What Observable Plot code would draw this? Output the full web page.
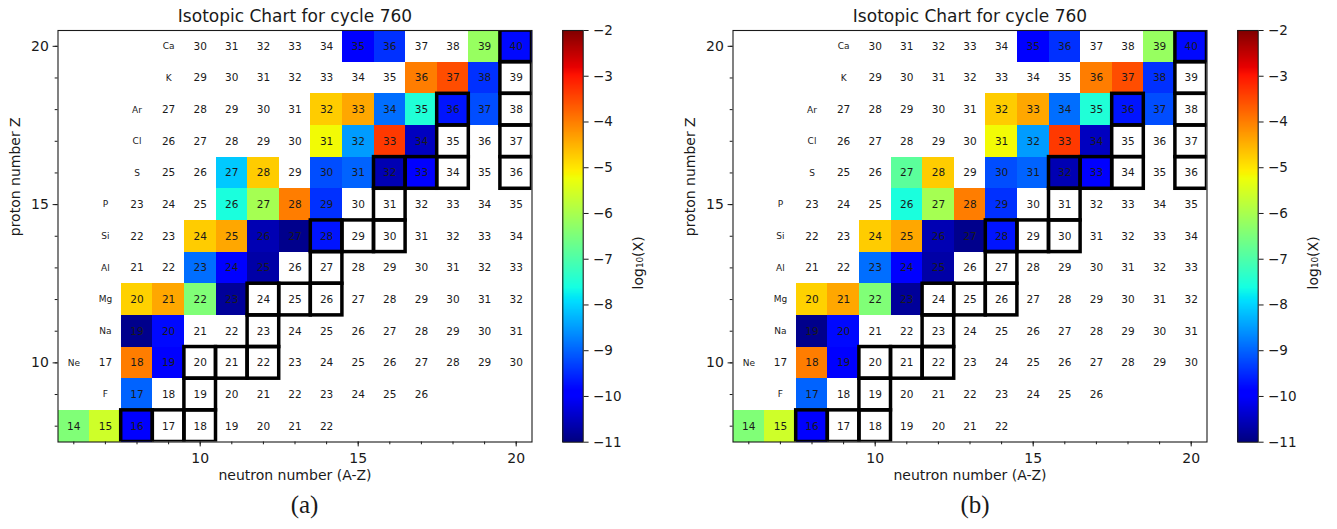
<!DOCTYPE html>
<html>
<head>
<meta charset="utf-8">
<script src="https://cdn.jsdelivr.net/npm/d3@7"></script>
<script src="https://cdn.jsdelivr.net/npm/@observablehq/plot@0.6"></script>
<style>
  html, body { margin: 0; padding: 0; background: #fff; }
  #fig { position: relative; width: 1337px; height: 529px; overflow: hidden; background: #fff; }
  #fig > svg, #fig > figure { position: absolute; top: 0; margin: 0; overflow: visible; }
</style>
</head>
<body>
<div id="fig"></div>
<script>
// ---------------- data ----------------
const chartTitle = "Isotopic Chart for cycle 760";
const xAxisLabel = "neutron number (A-Z)";
const yAxisLabel = "proton number Z";
const colourbarLabel = "log\u2081\u2080(X)";
const panelCaptions = ["(a)", "(b)"];

const elements       = ["O", "F", "Ne", "Na", "Mg", "Al", "Si", "P", "S", "Cl", "Ar", "K", "Ca"];
const protonNumbers  = [8, 9, 10, 11, 12, 13, 14, 15, 16, 17, 18, 19, 20];
const lightestMass   = [14, 17, 17, 19, 20, 21, 22, 23, 25, 26, 27, 29, 30];
const heaviestMass   = [22, 26, 30, 31, 32, 33, 34, 35, 36, 37, 38, 39, 40];

const stableIsotopes = ["O16", "O17", "O18", "F19", "Ne20", "Ne21", "Ne22", "Na23",
  "Mg24", "Mg25", "Mg26", "Al27", "Si28", "Si29", "Si30", "P31",
  "S32", "S33", "S34", "S36", "Cl35", "Cl37", "Ar36", "Ar38", "K39", "Ca40"];

const colouredIsotopes = ["O14", "O15", "O16", "F17", "Ne18", "Ne19", "Na19", "Na20",
  "Mg20", "Mg21", "Mg22", "Mg23", "Al23", "Al24", "Al25",
  "Si24", "Si25", "Si26", "Si27", "Si28", "P26", "P27", "P28", "P29",
  "S27", "S28", "S30", "S31", "S32", "S33", "Cl31", "Cl32", "Cl33", "Cl34",
  "Ar32", "Ar33", "Ar34", "Ar35", "Ar36", "Ar37", "K36", "K37", "K38",
  "Ca35", "Ca36", "Ca39", "Ca40"];

const logXPanelA = [-6.45, -5.6, -9.95, -9.0, -4.0, -9.95, -10.9, -9.8,
  -4.8, -4.4, -6.45, -10.8, -8.9, -9.95, -10.7,
  -4.75, -4.4, -10.6, -10.9, -9.7, -7.57, -6.05, -4.0, -9.45,
  -8.1, -4.75, -9.2, -9.0, -10.6, -9.95, -5.2, -8.5, -3.35, -10.5,
  -4.75, -4.4, -8.9, -7.5, -9.7, -9.2, -4.0, -3.54, -9.45,
  -9.95, -9.45, -6.2, -9.8];

const logXPanelB = [-6.45, -5.6, -9.95, -9.0, -4.0, -9.95, -10.9, -9.8,
  -4.8, -4.4, -6.45, -10.8, -8.9, -9.95, -10.7,
  -4.75, -4.4, -10.6, -10.9, -9.7, -7.57, -6.05, -4.0, -9.45,
  -6.85, -4.75, -9.2, -9.0, -10.6, -9.95, -5.2, -8.5, -3.35, -10.5,
  -4.75, -4.4, -8.9, -7.5, -9.7, -9.2, -4.0, -3.54, -9.45,
  -9.95, -9.45, -6.2, -9.8];

const majorTicks = [10, 15, 20];
const neutronMinorTicks = [6, 7, 8, 9, 10, 11, 12, 13, 14, 15, 16, 17, 18, 19, 20];
const protonMinorTicks = [8, 9, 10, 11, 12, 13, 14, 15, 16, 17, 18, 19, 20];
const colourbarTicks = [-2, -3, -4, -5, -6, -7, -8, -9, -10, -11];
const colourDomain = [-11, -2];

// ---------------- tables ----------------
const isotopes = [];
elements.forEach((el, i) => {
  const Z = protonNumbers[i];
  for (let A = lightestMass[i]; A <= heaviestMass[i]; A++) {
    isotopes.push({key: el + A, el, Z, A, N: A - Z});
  }
});
const byKey = new Map(isotopes.map(d => [d.key, d]));
const elementLabels = elements.map((el, i) => ({el, Z: protonNumbers[i], N: lightestMass[i] - protonNumbers[i] - 1}))
  .filter(d => d.N >= 6);
const stable = stableIsotopes.map(k => byKey.get(k));

// matplotlib "jet" colormap
function jet(t) {
  const seg = (x, pts) => {
    if (x <= pts[0][0]) return pts[0][1];
    for (let i = 1; i < pts.length; i++) {
      if (x <= pts[i][0]) {
        const [x0, y0] = pts[i - 1], [x1, y1] = pts[i];
        return y0 + (y1 - y0) * (x - x0) / (x1 - x0);
      }
    }
    return pts[pts.length - 1][1];
  };
  const r = seg(t, [[0, 0], [0.35, 0], [0.66, 1], [0.89, 1], [1, 0.5]]);
  const g = seg(t, [[0, 0], [0.125, 0], [0.375, 1], [0.64, 1], [0.91, 0], [1, 0]]);
  const b = seg(t, [[0, 0.5], [0.11, 1], [0.34, 1], [0.65, 0], [1, 0]]);
  return `rgb(${Math.round(r * 255)},${Math.round(g * 255)},${Math.round(b * 255)})`;
}
const colorScale = {type: "linear", domain: colourDomain, interpolate: jet};
const ink = "#1a1a1a";
const baseStyle = {fontFamily: "'DejaVu Sans', sans-serif", fontSize: "14px", color: ink, background: "transparent"};

function panel(values, caption, captionShift) {
  const coloured = colouredIsotopes.map((k, i) => ({...byKey.get(k), v: values[i]}));
  return Plot.plot({
    width: 545, height: 529,
    marginLeft: 57.5, marginRight: 13.5, marginTop: 30, marginBottom: 87.5,
    x: {domain: [5.5, 20.5], label: null},
    y: {domain: [7.5, 20.5], label: null},
    color: colorScale,
    style: baseStyle,
    marks: [
      Plot.rect(coloured, {x1: d => d.N - 0.5, x2: d => d.N + 0.5, y1: d => d.Z - 0.5, y2: d => d.Z + 0.5,
        fill: "v", shapeRendering: "crispEdges"}),
      Plot.text(isotopes, {x: "N", y: "Z", text: "A", fontSize: 10.5, fill: ink}),
      Plot.text(elementLabels, {x: "N", y: "Z", text: "el", fontSize: 9, fill: ink}),
      Plot.rect(stable, {x1: d => d.N - 0.5, x2: d => d.N + 0.5, y1: d => d.Z - 0.5, y2: d => d.Z + 0.5,
        fill: "none", stroke: "black", strokeWidth: 3.5, clip: true}),
      Plot.frame({stroke: ink, strokeWidth: 1.1}),
      Plot.axisX({ticks: neutronMinorTicks, tickSize: 2.8, tickFormat: () => "", label: null}),
      Plot.axisX({ticks: majorTicks, tickSize: 4.9, tickPadding: 6, fontSize: 14, label: null}),
      Plot.axisY({ticks: protonMinorTicks, tickSize: 2.8, tickFormat: () => "", label: null}),
      Plot.axisY({ticks: majorTicks, tickSize: 4.9, tickPadding: 4.3, fontSize: 14, label: null}),
      Plot.text([xAxisLabel], {frameAnchor: "bottom", dy: 37.5, fontSize: 14, fill: ink}),
      Plot.text([yAxisLabel], {frameAnchor: "left", dx: -42.3, rotate: -90, fontSize: 14, fill: ink}),
      Plot.text([chartTitle], {frameAnchor: "top", dy: -8.4, lineAnchor: "bottom", fontSize: 17, fill: ink}),
      Plot.text([caption], {frameAnchor: "bottom", dx: captionShift, dy: 70.5, fontSize: 25, fill: ink,
        fontFamily: "'Liberation Serif', serif"})
    ]
  });
}

function colourbar(width, marginRight) {
  const step = 0.01;
  const steps = d3.range(colourDomain[0], colourDomain[1], step);
  return Plot.plot({
    width, height: 529,
    marginLeft: 17.3, marginRight, marginTop: 30, marginBottom: 87.3,
    x: {axis: null},
    y: {domain: colourDomain, label: null},
    color: colorScale,
    style: baseStyle,
    marks: [
      Plot.rect(steps, {y1: d => d, y2: d => Math.min(d + step * 3, colourDomain[1]), fill: d => d + step / 2,
        shapeRendering: "crispEdges"}),
      Plot.frame({stroke: ink, strokeWidth: 1.1}),
      Plot.axisY({anchor: "right", ticks: colourbarTicks, tickSize: 4.9, tickPadding: 4.9, fontSize: 13.5, label: null}),
      Plot.text([colourbarLabel], {frameAnchor: "right", dx: 55.3, rotate: -90, fontSize: 14, fill: ink})
    ]
  });
}

const fig = document.getElementById("fig");
const offset = 675;
const items = [
  [panel(logXPanelA, panelCaptions[0], 9.5), 0],
  [colourbar(120, 82.3), 545],
  [panel(logXPanelB, panelCaptions[1], 5), offset],
  [colourbar(117, 79.3), 545 + offset]
];
for (const [node, left] of items) {
  node.style.left = left + "px";
  fig.appendChild(node);
}
</script>
</body>
</html>
